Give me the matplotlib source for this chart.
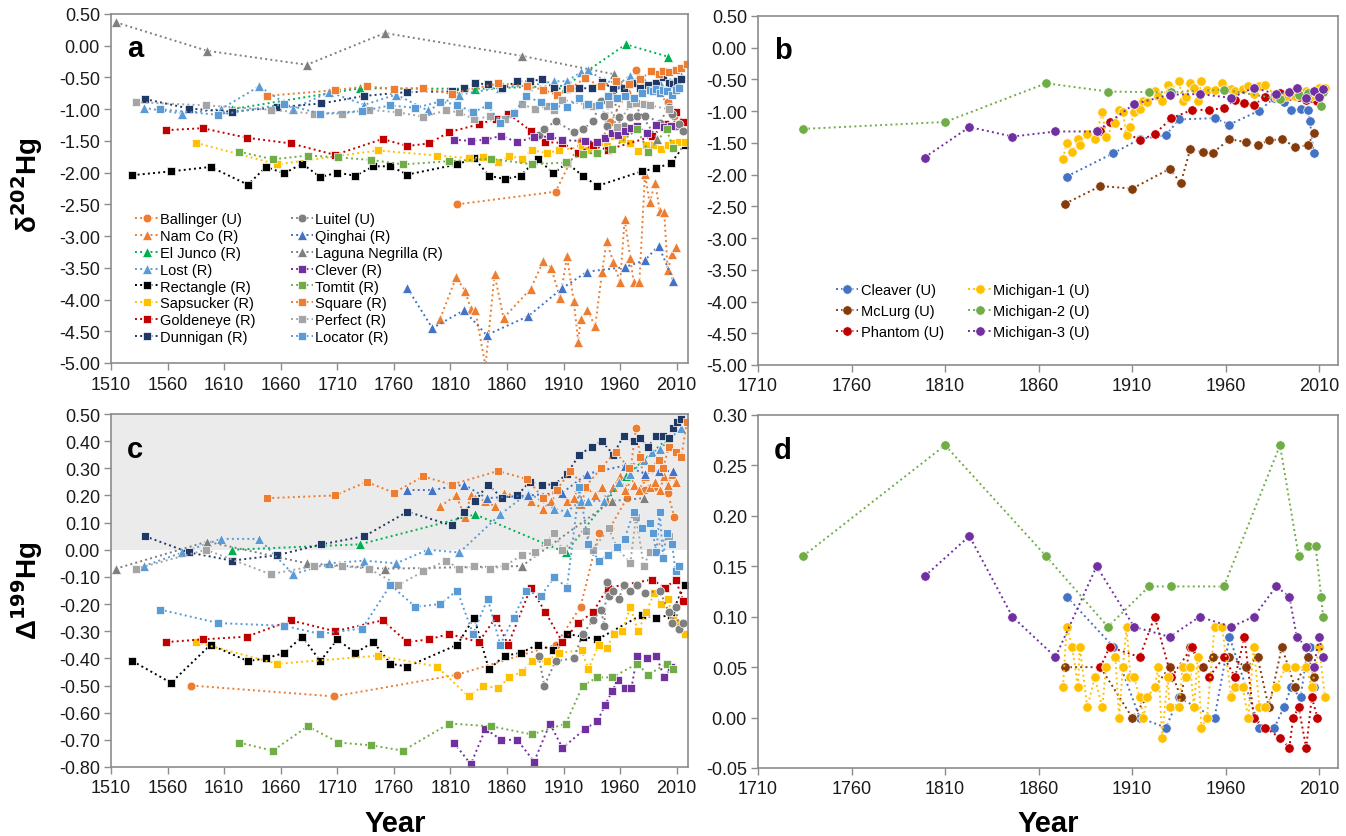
import matplotlib
matplotlib.use("Agg")
import matplotlib.pyplot as plt
from matplotlib.ticker import MultipleLocator, FormatStrFormatter

plt.rcParams['font.family'] = ['Liberation Sans', 'DejaVu Sans']

# ---------------- Panel a / c data (delta202 and Delta199) ----------------
ballinger_yr_a = [1816, 1903, 1925, 1939, 1951, 1966, 1974, 1982, 2002, 2008]
ballinger_a = [-2.50, -2.30, -1.50, -1.69, -1.20, -0.75, -0.38, -0.65, -0.88, -1.10]
ballinger_yr_c = [1581, 1707, 1816, 1903, 1925, 1941, 1951, 1966, 1974, 1982, 1990, 2002, 2008]
ballinger_c = [-0.50, -0.54, -0.46, -0.35, -0.21, 0.06, 0.08, 0.19, 0.45, 0.22, 0.23, 0.21, 0.12]

namco_yr = [1801, 1815, 1823, 1828, 1832, 1841, 1849, 1857, 1881, 1892, 1899, 1907, 1913, 1919,
            1923, 1925, 1931, 1938, 1944, 1948, 1954, 1960, 1964, 1969, 1972, 1977, 1982, 1986,
            1991, 1995, 1999, 2002, 2006, 2009]
namco_a = [-4.30, -3.65, -3.86, -4.15, -4.17, -5.05, -3.60, -4.29, -3.83, -3.40, -3.50, -3.97,
           -3.32, -4.02, -4.67, -4.31, -4.17, -4.42, -3.57, -3.08, -3.41, -3.73, -2.73, -3.35,
           -3.73, -3.73, -2.02, -2.47, -2.16, -2.60, -2.62, -3.54, -3.28, -3.17]
namco_c = [0.16, 0.20, 0.12, 0.20, 0.19, 0.18, 0.16, 0.21, 0.18, 0.15, 0.18, 0.22, 0.18, 0.19,
           0.23, 0.17, 0.23, 0.20, 0.23, 0.18, 0.23, 0.27, 0.22, 0.28, 0.24, 0.22, 0.27, 0.23,
           0.25, 0.22, 0.27, 0.24, 0.28, 0.25]

eljunco_yr = [1617, 1730, 1832, 1912, 1965, 2002]
eljunco_a = [-1.00, -0.67, -0.68, -0.63, 0.02, -0.17]
eljunco_c = [0.00, 0.02, 0.13, -0.01, 0.27, 0.41]

lost_yr = [1539, 1573, 1607, 1641, 1671, 1703, 1734, 1762, 1790, 1818, 1854, 1879, 1902, 1913,
           1925, 1932, 1946, 1959, 1969, 1981, 1988, 1995, 2014]
lost_a = [-0.98, -1.07, -1.00, -0.64, -0.99, -0.73, -0.93, -0.77, -1.02, -0.77, -0.66, -0.63,
          -0.56, -0.56, -0.42, -0.39, -0.55, -0.60, -0.47, -0.55, -0.62, -0.58, -0.48]
lost_c = [-0.06, -0.01, 0.04, 0.04, -0.09, -0.05, -0.04, -0.05, 0.00, -0.01, 0.13, 0.21, 0.15,
          0.14, 0.18, 0.18, 0.18, 0.25, 0.28, 0.33, 0.36, 0.37, 0.45]

rect_yr = [1529, 1563, 1598, 1631, 1647, 1663, 1679, 1695, 1710, 1726, 1742, 1757, 1772, 1816,
           1831, 1844, 1858, 1872, 1887, 1901, 1913, 1927, 1940, 1979, 1992, 2005, 2017]
rect_a = [-2.04, -1.98, -1.91, -2.19, -1.91, -2.01, -1.86, -2.07, -2.00, -2.05, -1.90, -1.90,
          -2.03, -1.87, -1.77, -2.05, -2.10, -2.05, -1.78, -2.01, -1.85, -2.05, -2.21, -1.98,
          -1.93, -1.85, -1.56]
rect_c = [-0.41, -0.49, -0.35, -0.41, -0.40, -0.38, -0.32, -0.41, -0.33, -0.38, -0.34, -0.42,
          -0.43, -0.35, -0.25, -0.44, -0.39, -0.38, -0.35, -0.37, -0.31, -0.32, -0.33, -0.24,
          -0.25, -0.24, -0.13]

saps_yr = [1585, 1657, 1746, 1798, 1826, 1839, 1852, 1862, 1873, 1882, 1895, 1906, 1926, 1932,
           1941, 1948, 1955, 1962, 1969, 1976, 1983, 1990, 1996, 2002, 2007, 2012, 2017]
saps_a = [-1.53, -1.87, -1.65, -1.73, -1.77, -1.76, -1.83, -1.74, -1.78, -1.65, -1.69, -1.65,
          -1.59, -1.65, -1.52, -1.58, -1.42, -1.47, -1.53, -1.66, -1.56, -1.56, -1.63, -1.57,
          -1.53, -1.52, -1.52]
saps_c = [-0.34, -0.42, -0.39, -0.43, -0.54, -0.50, -0.51, -0.47, -0.45, -0.41, -0.41, -0.38,
          -0.37, -0.44, -0.35, -0.36, -0.31, -0.30, -0.21, -0.30, -0.23, -0.16, -0.20, -0.18,
          -0.26, -0.27, -0.31]

gold_yr = [1559, 1591, 1630, 1669, 1708, 1750, 1772, 1791, 1809, 1835, 1850, 1861, 1881, 1894,
           1909, 1923, 1936, 1949, 1988, 2000, 2009, 2016]
gold_a = [-1.33, -1.30, -1.45, -1.54, -1.72, -1.47, -1.58, -1.54, -1.36, -1.24, -1.15, -1.07,
          -1.34, -1.52, -1.53, -1.69, -1.57, -1.64, -1.43, -1.24, -1.05, -1.20]
gold_c = [-0.34, -0.33, -0.32, -0.26, -0.30, -0.26, -0.34, -0.33, -0.31, -0.34, -0.25, -0.35,
          -0.14, -0.23, -0.34, -0.27, -0.23, -0.14, -0.11, -0.14, -0.11, -0.19]

dunn_yr = [1540, 1579, 1617, 1657, 1696, 1734, 1772, 1811, 1822, 1832, 1843, 1856, 1869, 1880,
           1891, 1902, 1913, 1924, 1935, 1944, 1954, 1963, 1972, 1978, 1985, 1992, 1998, 2003,
           2007, 2010, 2014]
dunn_a = [-0.84, -0.99, -1.04, -0.97, -0.91, -0.79, -0.73, -0.72, -0.67, -0.59, -0.61, -0.67,
          -0.56, -0.56, -0.53, -0.67, -0.68, -0.67, -0.67, -0.57, -0.68, -0.67, -0.58, -0.67,
          -0.62, -0.58, -0.50, -0.58, -0.60, -0.56, -0.52]
dunn_c = [0.05, -0.01, -0.04, -0.02, 0.02, 0.05, 0.14, 0.09, 0.14, 0.18, 0.24, 0.19, 0.20, 0.25,
          0.24, 0.24, 0.28, 0.35, 0.38, 0.40, 0.35, 0.42, 0.40, 0.41, 0.38, 0.42, 0.42, 0.41,
          0.45, 0.47, 0.48]

luitel_yr = [1888, 1893, 1903, 1919, 1927, 1936, 1943, 1946, 1948, 1950, 1954, 1959, 1963, 1969,
             1975, 1982, 1995, 2003, 2006, 2009, 2012, 2016]
luitel_a = [-1.40, -1.31, -1.19, -1.36, -1.32, -1.19, -0.87, -1.10, -1.26, -0.79, -0.80, -1.13,
            -1.26, -1.13, -1.10, -1.10, -1.21, -0.97, -1.08, -1.26, -1.23, -1.34]
luitel_c = [-0.39, -0.50, -0.41, -0.40, -0.31, -0.26, -0.22, -0.28, -0.12, -0.17, -0.15, -0.18,
            -0.13, -0.15, -0.13, -0.16, -0.15, -0.23, -0.27, -0.21, -0.29, -0.27]

qinghai_yr = [1772, 1794, 1822, 1842, 1879, 1909, 1931, 1964, 1982, 1994, 2007]
qinghai_a = [-3.82, -4.45, -4.17, -4.56, -4.26, -3.82, -3.56, -3.49, -3.38, -3.15, -3.70]
qinghai_c = [0.22, 0.22, 0.24, 0.19, 0.20, 0.21, 0.28, 0.31, 0.28, 0.29, 0.29]

laguna_yr_a = [1514, 1595, 1683, 1752, 1873, 1955, 1993]
laguna_a = [0.37, -0.08, -0.30, 0.20, -0.16, -0.45, -1.47]
laguna_yr_c = [1514, 1595, 1683, 1752, 1873, 1953, 1981]
laguna_c = [-0.07, 0.03, -0.05, -0.07, -0.06, 0.18, 0.19]

clever_yr = [1813, 1828, 1841, 1855, 1869, 1884, 1898, 1909, 1929, 1940, 1947, 1953, 1958, 1964,
             1970, 1975, 1984, 1992, 1999, 2005]
clever_a = [-1.48, -1.50, -1.48, -1.42, -1.52, -1.44, -1.43, -1.49, -1.50, -1.52, -1.45, -1.37,
            -1.40, -1.35, -1.30, -1.27, -1.38, -1.25, -1.28, -1.26]
clever_c = [-0.71, -0.79, -0.66, -0.70, -0.70, -0.78, -0.64, -0.73, -0.66, -0.63, -0.57, -0.52,
            -0.48, -0.51, -0.51, -0.39, -0.40, -0.39, -0.47, -0.43]

tomtit_yr = [1623, 1653, 1684, 1711, 1740, 1768, 1809, 1846, 1882, 1912, 1927, 1940, 1953, 1975,
             1985, 2001, 2007]
tomtit_a = [-1.67, -1.79, -1.73, -1.76, -1.80, -1.87, -1.82, -1.78, -1.87, -1.84, -1.70, -1.69,
            -1.62, -1.32, -1.67, -1.32, -1.61]
tomtit_c = [-0.71, -0.74, -0.65, -0.71, -0.72, -0.74, -0.64, -0.65, -0.68, -0.64, -0.50, -0.47,
            -0.47, -0.42, -0.46, -0.42, -0.44]

square_yr = [1648, 1708, 1736, 1760, 1786, 1811, 1852, 1878, 1892, 1904, 1916, 1929, 1943, 1956,
             1968, 1978, 1987, 1994, 1998, 2003, 2009, 2014, 2019]
square_a = [-0.79, -0.70, -0.64, -0.68, -0.67, -0.76, -0.59, -0.64, -0.69, -0.78, -0.67, -0.51,
            -0.64, -0.55, -0.60, -0.53, -0.40, -0.45, -0.40, -0.42, -0.39, -0.35, -0.29]
square_c = [0.19, 0.20, 0.25, 0.21, 0.27, 0.24, 0.29, 0.26, 0.19, 0.22, 0.29, 0.23, 0.30, 0.36,
            0.30, 0.34, 0.30, 0.33, 0.30, 0.38, 0.36, 0.34, 0.47]

perfect_yr = [1532, 1594, 1651, 1689, 1714, 1738, 1764, 1786, 1806, 1818, 1831, 1845, 1858, 1873,
              1885, 1895, 1902, 1909, 1930, 1936, 1950, 1957, 1969, 1974, 1981, 1986, 2003]
perfect_a = [-0.89, -0.94, -1.01, -1.07, -1.07, -1.01, -1.05, -1.12, -1.02, -1.05, -1.16, -1.11,
             -1.16, -0.92, -1.00, -0.95, -1.02, -0.85, -0.93, -0.95, -0.92, -1.28, -0.92, -0.90,
             -0.92, -0.94, -1.00]
perfect_c = [-0.07, 0.00, -0.09, -0.06, -0.06, -0.07, -0.13, -0.08, -0.04, -0.07, -0.06, -0.07,
             -0.06, -0.02, -0.01, 0.03, 0.06, 0.00, 0.07, 0.00, 0.08, 0.01, -0.05, 0.12, -0.06,
             -0.01, 0.05]

locator_yr = [1553, 1605, 1663, 1695, 1732, 1757, 1779, 1801, 1816, 1830, 1843, 1854, 1866, 1877,
              1890, 1902, 1913, 1924, 1932, 1941, 1949, 1957, 1964, 1972, 1979, 1986, 1989, 1992,
              1995, 1998, 2001, 2006, 2009, 2012]
locator_a = [-1.00, -1.09, -0.92, -1.07, -1.03, -0.94, -0.98, -0.88, -0.93, -1.05, -0.94, -1.21,
             -1.06, -0.80, -0.89, -0.95, -0.97, -0.83, -0.92, -0.94, -0.80, -0.82, -0.80, -0.82,
             -0.75, -0.70, -0.72, -0.68, -0.75, -0.70, -0.72, -0.78, -0.70, -0.66]
locator_c = [-0.22, -0.27, -0.28, -0.31, -0.29, -0.13, -0.21, -0.20, -0.15, -0.31, -0.18, -0.35,
             -0.25, -0.15, -0.17, -0.10, -0.14, 0.23, 0.02, -0.04, -0.02, 0.01, 0.04, 0.14, 0.08,
             0.10, 0.06, -0.01, 0.14, -0.03, 0.06, 0.02, -0.08, -0.06]

# ---------------- Panel b / d data ----------------
cleaver_yr = [1875, 1900, 1914, 1928, 1935, 1954, 1962, 1978, 1986, 1991, 1995, 2000, 2004, 2005, 2007]
cleaver_b = [-2.03, -1.66, -1.44, -1.38, -1.13, -1.11, -1.21, -0.99, -0.79, -0.85, -0.98, -0.96,
             -0.98, -1.16, -1.66]
cleaver_d = [0.12, 0.07, 0.00, -0.01, 0.02, 0.00, 0.08, -0.01, -0.01, 0.01, 0.03, 0.02, 0.07, 0.07, 0.03]

mclurg_yr = [1874, 1893, 1910, 1930, 1936, 1941, 1948, 1953, 1962, 1971, 1977, 1983, 1990, 1997, 2004, 2007]
mclurg_b = [-2.46, -2.18, -2.22, -1.91, -2.13, -1.60, -1.65, -1.66, -1.44, -1.49, -1.54, -1.46,
            -1.44, -1.56, -1.54, -1.34]
mclurg_d = [0.05, 0.05, 0.00, 0.05, 0.02, 0.07, 0.05, 0.06, 0.06, 0.05, 0.06, 0.01, 0.07, 0.03, 0.06, 0.04]

phantom_yr = [1893, 1898, 1914, 1922, 1931, 1942, 1951, 1959, 1965, 1970, 1975, 1981, 1989, 1994,
              1996, 1999, 2003, 2006, 2009]
phantom_b = [-1.32, -1.17, -1.46, -1.36, -1.11, -0.98, -0.98, -0.95, -0.82, -0.87, -0.91, -0.77,
             -0.71, -0.76, -0.70, -0.77, -0.82, -0.80, -0.84]
phantom_d = [0.05, 0.07, 0.06, 0.10, 0.04, 0.07, 0.04, 0.06, 0.04, 0.08, 0.00, -0.01, -0.02, -0.03,
             0.00, 0.01, -0.03, 0.02, 0.00]

mich1_yr = [1873, 1875, 1878, 1881, 1882, 1886, 1890, 1894, 1896, 1901, 1903, 1905, 1907, 1909,
            1911, 1914, 1916, 1918, 1922, 1924, 1926, 1929, 1930, 1935, 1937, 1939, 1941, 1943,
            1945, 1947, 1950, 1954, 1958, 1963, 1965, 1969, 1972, 1975, 1978, 1981, 1987, 1992,
            1997, 2003, 2006, 2010, 2013]
mich1_b = [-1.75, -1.50, -1.65, -1.44, -1.54, -1.36, -1.44, -1.02, -1.40, -1.18, -0.98, -1.02,
           -1.37, -1.25, -1.02, -0.97, -0.84, -0.86, -0.68, -0.76, -0.84, -0.58, -0.68, -0.52,
           -0.84, -0.78, -0.55, -0.64, -0.84, -0.52, -0.66, -0.66, -0.55, -0.65, -0.68, -0.65,
           -0.61, -0.73, -0.61, -0.59, -0.77, -0.76, -0.76, -0.68, -0.76, -0.64, -0.64]
mich1_d = [0.03, 0.09, 0.07, 0.03, 0.07, 0.01, 0.04, 0.01, 0.05, 0.06, 0.00, 0.05, 0.09, 0.04,
           0.04, 0.02, 0.00, 0.02, 0.03, 0.05, -0.02, 0.04, 0.01, 0.01, 0.05, 0.04, 0.05, 0.01,
           0.06, -0.01, 0.00, 0.09, 0.09, 0.02, 0.03, 0.03, 0.00, 0.07, 0.01, 0.01, 0.03, 0.05,
           0.05, 0.05, 0.03, 0.07, 0.02]

mich2_yr = [1734, 1810, 1864, 1897, 1919, 1931, 1959, 1989, 1999, 2004, 2008, 2011, 2012]
mich2_b = [-1.28, -1.17, -0.56, -0.69, -0.70, -0.70, -0.66, -0.81, -0.75, -0.72, -0.70, -0.92, -0.70]
mich2_d = [0.16, 0.27, 0.16, 0.09, 0.13, 0.13, 0.13, 0.27, 0.16, 0.17, 0.17, 0.12, 0.10]

mich3_yr = [1799, 1823, 1846, 1869, 1891, 1911, 1930, 1946, 1963, 1975, 1987, 1994, 1998, 2003,
            2007, 2010, 2012]
mich3_b = [-1.73, -1.25, -1.40, -1.32, -1.32, -0.89, -0.74, -0.73, -0.79, -0.63, -0.73, -0.69,
           -0.63, -0.79, -0.68, -0.78, -0.65]
mich3_d = [0.14, 0.18, 0.10, 0.06, 0.15, 0.09, 0.08, 0.10, 0.09, 0.10, 0.13, 0.12, 0.08, 0.07,
           0.05, 0.08, 0.06]

# ---------------- series definitions (label, marker, colour, a-data, c-data) ----------------
ORANGE = '#ED7D31'
series_ac = [
    ('Ballinger (U)', 'o', ORANGE, ballinger_yr_a, ballinger_a, ballinger_yr_c, ballinger_c),
    ('Nam Co (R)', '^', ORANGE, namco_yr, namco_a, namco_yr, namco_c),
    ('El Junco (R)', '^', '#00B050', eljunco_yr, eljunco_a, eljunco_yr, eljunco_c),
    ('Lost (R)', '^', '#5B9BD5', lost_yr, lost_a, lost_yr, lost_c),
    ('Rectangle (R)', 's', '#000000', rect_yr, rect_a, rect_yr, rect_c),
    ('Sapsucker (R)', 's', '#FFC000', saps_yr, saps_a, saps_yr, saps_c),
    ('Goldeneye (R)', 's', '#C00000', gold_yr, gold_a, gold_yr, gold_c),
    ('Dunnigan (R)', 's', '#203864', dunn_yr, dunn_a, dunn_yr, dunn_c),
    ('Luitel (U)', 'o', '#7F7F7F', luitel_yr, luitel_a, luitel_yr, luitel_c),
    ('Qinghai (R)', '^', '#4472C4', qinghai_yr, qinghai_a, qinghai_yr, qinghai_c),
    ('Laguna Negrilla (R)', '^', '#7F7F7F', laguna_yr_a, laguna_a, laguna_yr_c, laguna_c),
    ('Clever (R)', 's', '#7030A0', clever_yr, clever_a, clever_yr, clever_c),
    ('Tomtit (R)', 's', '#70AD47', tomtit_yr, tomtit_a, tomtit_yr, tomtit_c),
    ('Square (R)', 's', ORANGE, square_yr, square_a, square_yr, square_c),
    ('Perfect (R)', 's', '#A5A5A5', perfect_yr, perfect_a, perfect_yr, perfect_c),
    ('Locator (R)', 's', '#5B9BD5', locator_yr, locator_a, locator_yr, locator_c),
]

series_bd = [
    ('Cleaver (U)', '#4472C4', cleaver_yr, cleaver_b, cleaver_d),
    ('McLurg (U)', '#843C0C', mclurg_yr, mclurg_b, mclurg_d),
    ('Phantom (U)', '#C00000', phantom_yr, phantom_b, phantom_d),
    ('Michigan-1 (U)', '#FFC000', mich1_yr, mich1_b, mich1_d),
    ('Michigan-2 (U)', '#70AD47', mich2_yr, mich2_b, mich2_d),
    ('Michigan-3 (U)', '#7030A0', mich3_yr, mich3_b, mich3_d),
]

fig = plt.figure(figsize=(13.46, 8.37), dpi=100)
W, H = 1346, 837


def axes_px(l, t, r, b):
    return fig.add_axes([l / W, 1 - b / H, (r - l) / W, (b - t) / H])


ax_a = axes_px(111, 15, 688, 364)
ax_b = axes_px(758, 17, 1338, 366)
ax_c = axes_px(111, 415, 688, 768)
ax_d = axes_px(758, 416, 1338, 769)

SPINE = '#8C8C8C'


def style(ax, xlim, xstep, ylim, ystep):
    ax.set_xlim(*xlim)
    ax.set_ylim(*ylim)
    ax.xaxis.set_major_locator(MultipleLocator(xstep))
    ax.yaxis.set_major_locator(MultipleLocator(ystep))
    ax.yaxis.set_major_formatter(FormatStrFormatter('%.2f'))
    for s in ax.spines.values():
        s.set_color(SPINE)
        s.set_linewidth(1.2)
    ax.tick_params(axis='both', direction='out', length=5, width=1.0, color=SPINE,
                   labelsize=13, labelcolor='#1a1a1a')
    ax.tick_params(axis='x', pad=4)
    ax.tick_params(axis='y', pad=3)
    ax.set_xticks(list(range(int(xlim[0]), 2011, xstep)))


def msize(m):
    return 7.5 if m == '^' else 6.3


for ax in (ax_a, ax_c):
    style(ax, (1510, 2020), 50, (-5.0, 0.5) if ax is ax_a else (-0.8, 0.5),
          0.5 if ax is ax_a else 0.1)
ax_c.axhspan(0, 0.5, color='#EBEBEB', zorder=0, lw=0)

for (lab, m, col, ya, va, yc, vc) in series_ac:
    ax_a.plot(ya, va, linestyle=':', lw=1.4, color=col, marker=m, ms=msize(m),
              mfc=col, mec='white', mew=0.5, label=lab)
    ax_c.plot(yc, vc, linestyle=':', lw=1.4, color=col, marker=m, ms=msize(m),
              mfc=col, mec='white', mew=0.5)

style(ax_b, (1710, 2020), 50, (-5.0, 0.5), 0.5)
style(ax_d, (1710, 2020), 50, (-0.05, 0.30), 0.05)
for (lab, col, yr, vb, vd) in series_bd:
    ax_b.plot(yr, vb, linestyle=':', lw=1.4, color=col, marker='o', ms=6.8,
              mfc=col, mec='white', mew=0.5, label=lab)
    ax_d.plot(yr, vd, linestyle=':', lw=1.4, color=col, marker='o', ms=6.8,
              mfc=col, mec='white', mew=0.5)

leg_a = ax_a.legend(ncol=2, loc='upper left', bbox_to_anchor=(0.042, 0.433), frameon=False,
                    fontsize=10.5, handlelength=1.55, handletextpad=0.15, labelspacing=0.2,
                    columnspacing=2.4, borderaxespad=0, borderpad=0)
leg_b = ax_b.legend(ncol=2, loc='upper left', bbox_to_anchor=(0.134, 0.236), frameon=False,
                    fontsize=10.5, handlelength=1.55, handletextpad=0.15, labelspacing=0.49,
                    columnspacing=1.7, borderaxespad=0, borderpad=0)

for ax, letter in ((ax_a, 'a'), (ax_b, 'b'), (ax_c, 'c'), (ax_d, 'd')):
    ax.text(0.028, 0.902, letter, transform=ax.transAxes, fontsize=21, fontweight='bold',
            va='center', ha='left')

fig.text(27 / W, 1 - 185 / H, 'δ$^{\\mathbf{202}}$Hg', rotation=90, fontsize=20,
         fontweight='bold', ha='center', va='center')
fig.text(27 / W, 1 - 591 / H, 'Δ$^{\\mathbf{199}}$Hg', rotation=90, fontsize=20,
         fontweight='bold', ha='center', va='center')

fig.text(395 / W, 1 - 824 / H, 'Year', fontsize=21, fontweight='bold', ha='center', va='center')
fig.text(1048 / W, 1 - 824 / H, 'Year', fontsize=21, fontweight='bold', ha='center', va='center')

fig.savefig('out.png', dpi=100)
